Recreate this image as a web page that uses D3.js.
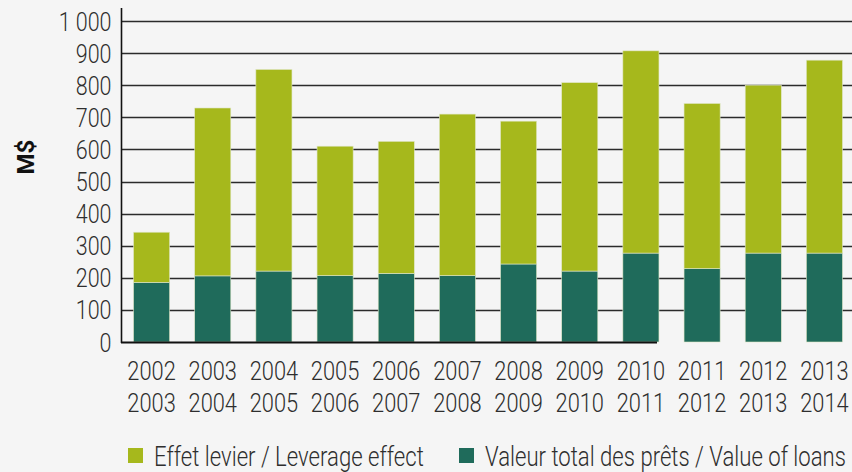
<!DOCTYPE html>
<html>
<head>
<meta charset="utf-8">
<script src="https://cdn.jsdelivr.net/npm/d3@7"></script>
<style>
  html, body { margin: 0; padding: 0; background: #f5f5f5; }
  svg text { font-family: Roboto, "Noto Sans", sans-serif; font-weight: 300; fill: #2e2e2e; }
</style>
</head>
<body>
<div id="chart"></div>
<script>
// periods (two-line labels)
var periodStart = ['2002', '2003', '2004', '2005', '2006', '2007', '2008', '2009', '2010', '2011', '2012', '2013'];
var periodEnd   = ['2003', '2004', '2005', '2006', '2007', '2008', '2009', '2010', '2011', '2012', '2013', '2014'];
// M$
var loans    = [186, 206, 221, 207, 214, 207, 243, 221, 277, 229, 277, 277];
var leverage = [156, 523, 628, 403, 411, 503, 445, 587, 630, 514, 523, 601];
var yTicks = [0, 100, 200, 300, 400, 500, 600, 700, 800, 900, 1000];
var seriesNames = ['Effet levier / Leverage effect', 'Valeur total des prêts / Value of loans'];

var W = 852, H = 472;
var colLoans = '#1f6b5b', colLev = '#a6b81c';
var narrow = 0.84; // condensed look

var svg = d3.select('#chart').append('svg')
	.attr('width', W)
	.attr('height', H);

svg.append('rect')
	.attr('width', W)
	.attr('height', H)
	.attr('fill', '#f5f5f5');

var y = d3.scaleLinear().domain([0, 1000]).range([342, 21]);
var x = d3.scaleBand()
	.domain(periodStart)
	.range([121, 855])
	.paddingInner(0.41)
	.paddingOuter(0.205);

// gridlines
svg.append('g').selectAll('line')
	.data(yTicks.filter(function(d) { return d > 0; }))
	.enter().append('line')
	.attr('x1', 121)
	.attr('x2', W)
	.attr('y1', function(d) { return Math.round(y(d)) + 0.5; })
	.attr('y2', function(d) { return Math.round(y(d)) + 0.5; })
	.attr('stroke', '#2b2b2b')
	.attr('stroke-width', 1.6);

// y axis
var yAxis = svg.append('g')
	.attr('transform', 'translate(121,0)')
	.call(d3.axisLeft(y).tickValues(yTicks).tickSize(0).tickPadding(11)
		.tickFormat(function(d) { return d3.format(',')(d).replace(',', ' '); }));
yAxis.select('.domain').remove();
yAxis.selectAll('text')
	.style('font-size', '25px')
	.attr('dy', '0.36em')
	.attr('transform', 'scale(0.86,1)');

svg.append('line')
	.attr('x1', 121.5).attr('x2', 121.5)
	.attr('y1', 8).attr('y2', 343)
	.attr('stroke', '#111')
	.attr('stroke-width', 1.6);

// stacked bars
var stackData = periodStart.map(function(p, i) {
	return { period: p, loans: loans[i], leverage: leverage[i] };
});
var stack = d3.stack().keys(['loans', 'leverage'])(stackData);
var colors = { loans: colLoans, leverage: colLev };

svg.append('g').selectAll('g')
	.data(stack)
	.enter().append('g')
	.attr('fill', function(d) { return colors[d.key]; })
	.selectAll('rect')
	.data(function(d) { return d; })
	.enter().append('rect')
	.attr('x', function(d) { return x(d.data.period); })
	.attr('y', function(d) { return y(d[1]); })
	.attr('width', x.bandwidth())
	.attr('height', function(d) { return y(d[0]) - y(d[1]); })
	.attr('stroke', '#dfe6c6')
	.attr('stroke-width', 0.6);

// baseline (stops part way, as in the original)
svg.append('line')
	.attr('x1', 121).attr('x2', 657)
	.attr('y1', 342.5).attr('y2', 342.5)
	.attr('stroke', '#111')
	.attr('stroke-width', 1.8);

// x labels
var xl = svg.append('g').selectAll('g')
	.data(periodStart)
	.enter().append('g')
	.attr('transform', function(d) { return 'translate(' + (x(d) + x.bandwidth() / 2) + ',0) scale(' + narrow + ',1)'; })
	.append('text')
	.attr('text-anchor', 'middle')
	.style('font-size', '26px');
xl.append('tspan')
	.attr('x', 0)
	.attr('y', 380)
	.text(function(d) { return d; });
xl.append('tspan')
	.attr('x', 0)
	.attr('y', 412)
	.text(function(d, i) { return periodEnd[i]; });

// y title
svg.append('text')
	.attr('transform', 'translate(34,157) rotate(-90)')
	.attr('text-anchor', 'middle')
	.style('font-weight', 'bold')
	.style('font-size', '24px')
	.style('fill', '#111')
	.text('M$');

// legend
var legendX = [128, 459];
var legendCol = [colLev, colLoans];
var lg = svg.append('g').selectAll('g')
	.data(seriesNames)
	.enter().append('g')
	.attr('transform', function(d, i) { return 'translate(' + legendX[i] + ',448)'; });
lg.append('rect')
	.attr('width', 15)
	.attr('height', 15)
	.attr('fill', function(d, i) { return legendCol[i]; });
lg.append('text')
	.attr('transform', 'translate(26,17.5) scale(0.82,1)')
	.style('font-size', '27px')
	.text(function(d) { return d; });
</script>
</body>
</html>
